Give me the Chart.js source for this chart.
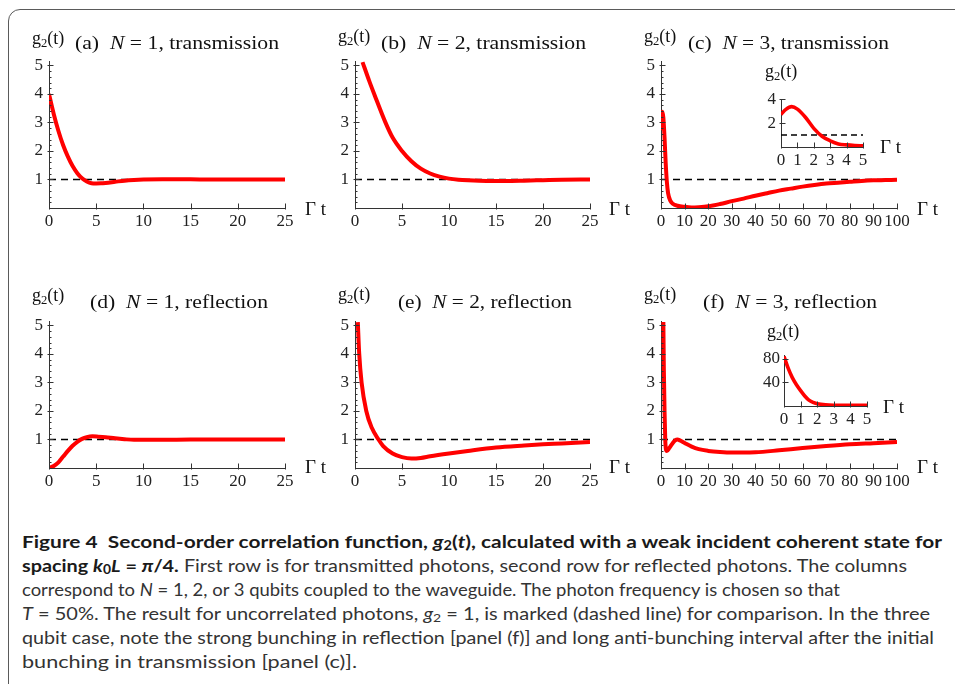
<!DOCTYPE html>
<html><head><meta charset="utf-8">
<script src="https://cdn.jsdelivr.net/npm/chart.js@4.4.1/dist/chart.umd.min.js"></script>
<style>
html,body{margin:0;padding:0;background:#fff;width:955px;height:684px;overflow:hidden;}
#wrap{position:relative;width:955px;height:684px;overflow:hidden;}
#frame{position:absolute;left:8px;top:9px;width:1000px;height:720px;border:1.5px solid #5a5a5a;border-radius:12px;box-sizing:border-box;}
canvas{position:absolute;}
.lbl{position:absolute;white-space:nowrap;font-family:'Liberation Serif','Times New Roman',serif;color:#111;line-height:1;transform-origin:0 50%;}
.lbl sub{font-size:0.7em;vertical-align:-0.25em;line-height:0;}
.cap{position:absolute;left:22px;white-space:nowrap;font-family:Lato,'Open Sans',sans-serif;font-size:17.5px;line-height:24px;height:24px;color:#333;}
.cap span.in{display:inline-block;transform-origin:0 50%;}
.cap b{color:#1a1a1a;font-weight:700;}
.cap sub{font-size:0.7em;vertical-align:-0.2em;line-height:0;}
</style></head>
<body><div id="wrap"><div id="frame"></div>
<canvas id="ca"></canvas><canvas id="cb"></canvas><canvas id="cc"></canvas><canvas id="cci"></canvas>
<canvas id="cd"></canvas><canvas id="ce"></canvas><canvas id="cf"></canvas><canvas id="cfi"></canvas>
<div class="cap" style="top:530px"><span class="in" data-w="920"><b>Figure 4&nbsp; Second-order correlation function, <i>g</i><sub>2</sub>(<i>t</i>), calculated with a weak incident coherent state for</b></span></div>
<div class="cap" style="top:554px"><span class="in" data-w="885"><b>spacing <i>k</i><sub>0</sub><i>L</i> = <i>π</i>/4.</b> First row is for transmitted photons, second row for reflected photons. The columns</span></div>
<div class="cap" style="top:578px"><span class="in" data-w="818">correspond to <i>N</i> = 1, 2, or 3 qubits coupled to the waveguide. The photon frequency is chosen so that</span></div>
<div class="cap" style="top:602px"><span class="in" data-w="908"><i>T</i> = 50%. The result for uncorrelated photons, <i>g</i><sub>2</sub> = 1, is marked (dashed line) for comparison. In the three</span></div>
<div class="cap" style="top:626px"><span class="in" data-w="912">qubit case, note the strong bunching in reflection [panel (f)] and long anti-bunching interval after the initial</span></div>
<div class="cap" style="top:650px"><span class="in" data-w="335">bunching in transmission [panel (c)].</span></div>
</div>
<script>
// ---------------- data ----------------
// (a) N=1 transmission
const aT = [0, 0.5, 1.0, 1.5, 2, 2.5, 3, 3.5, 4, 4.5, 5, 5.5, 6, 7, 8, 9, 10, 12, 15, 20, 25];
const aG = [4.0, 3.3, 2.7, 2.2, 1.8, 1.47, 1.22, 1.04, 0.93, 0.87, 0.86, 0.865, 0.88, 0.92, 0.96, 0.985, 1.0, 1.01, 1.005, 1.0, 1.0];
// (b) N=2 transmission
const bT = [0.8, 1.5, 2.1, 3.2, 4, 5, 6, 7, 8, 9, 10, 11, 12, 14, 16, 18, 20, 22, 25];
const bG = [5.12, 4.47, 3.95, 3.03, 2.47, 2.0, 1.64, 1.38, 1.21, 1.1, 1.03, 0.99, 0.97, 0.95, 0.95, 0.96, 0.975, 0.99, 1.0];
// (c) N=3 transmission
const cT = [0, 0.6, 1.0, 1.5, 2, 2.5, 3, 4, 5, 7, 10, 13, 16, 20, 25, 30, 35, 40, 45, 50, 55, 60, 65, 70, 75, 80, 85, 90, 95, 100];
const cG = [2.73, 3.38, 3.17, 2.47, 1.56, 0.9, 0.52, 0.25, 0.15, 0.08, 0.04, 0.02, 0.03, 0.06, 0.14, 0.24, 0.33, 0.43, 0.52, 0.61, 0.68, 0.75, 0.81, 0.86, 0.89, 0.92, 0.95, 0.97, 0.98, 0.99];
// (c) inset
const ciT = [0, 0.3, 0.65, 1.0, 1.5, 2.0, 2.5, 3.0, 3.5, 4.0, 4.5, 5.0];
const ciG = [2.73, 3.15, 3.38, 3.17, 2.47, 1.56, 0.9, 0.52, 0.26, 0.18, 0.13, 0.10];
// (d) N=1 reflection
const dT = [0, 0.5, 1, 1.5, 2, 2.5, 3, 3.5, 4, 4.6, 5.2, 6, 7, 8, 9, 10, 12, 15, 20, 25];
const dG = [0, 0.07, 0.2, 0.4, 0.6, 0.78, 0.92, 1.02, 1.08, 1.11, 1.1, 1.08, 1.04, 1.01, 0.99, 0.99, 0.99, 1.0, 1.0, 1.0];
// (e) N=2 reflection
const eT = [0.3, 0.45, 0.7, 1.2, 1.8, 2.5, 3, 4, 5, 6, 7, 8, 10, 12, 15, 18, 20, 22, 25];
const eG = [5.12, 4.0, 3.0, 2.0, 1.4, 1.0, 0.77, 0.51, 0.38, 0.33, 0.35, 0.41, 0.51, 0.6, 0.72, 0.79, 0.83, 0.86, 0.91];
// (f) N=3 reflection
const fT = [1.0, 1.2, 1.5, 1.8, 2.1, 2.5, 3.5, 5, 6, 7, 8, 10, 13, 16, 20, 25, 30, 35, 40, 50, 60, 70, 80, 90, 100];
const fG = [5.12, 3.5, 2.0, 1.0, 0.65, 0.6, 0.7, 0.88, 0.97, 1.0, 0.97, 0.88, 0.75, 0.66, 0.6, 0.56, 0.54, 0.54, 0.55, 0.62, 0.7, 0.77, 0.83, 0.87, 0.91];
// (f) inset
const fiT = [0, 0.25, 0.5, 0.75, 1, 1.25, 1.5, 1.75, 2, 2.5, 3, 3.5, 4, 4.5, 5];
const fiG = [84, 64, 48, 36, 26, 17, 10, 6, 4, 2, 1.2, 1, 1, 1, 1];

// uncorrelated reference level g2 = 1
const refLevel = 1;

// tick values
const mainYTicks = [0, 1, 2, 3, 4, 5];
const xTicks25 = [0, 5, 10, 15, 20, 25];
const xTicks100 = [0, 10, 20, 30, 40, 50, 60, 70, 80, 90, 100];
const insetXTicks = [0, 1, 2, 3, 4, 5];
const insetCYTicks = [0, 2, 4];
const insetFYTicks = [0, 40, 80];

// ---------------- drawing ----------------
Chart.defaults.font.family = "'Liberation Serif','Times New Roman',serif";
Chart.defaults.color = '#222';

const inTicks = {
  id: 'inTicks',
  afterDatasetsDraw(chart, args, o) {
    const {ctx, chartArea: ca, scales: {x, y}} = chart;
    ctx.save(); ctx.strokeStyle = '#333'; ctx.lineWidth = 1;
    const line = (x1, y1, x2, y2) => { ctx.beginPath(); ctx.moveTo(x1, y1); ctx.lineTo(x2, y2); ctx.stroke(); };
    (o.xMajor || []).forEach(v => { const p = Math.round(x.getPixelForValue(v)) + 0.5; line(p, ca.bottom + 1.5, p, ca.bottom - 4.5); });
    (o.yMinor || []).forEach(v => { const p = Math.round(y.getPixelForValue(v)) + 0.5; line(ca.left, p, ca.left + 2.5, p); });
    (o.yMajor || []).forEach(v => { const p = Math.round(y.getPixelForValue(v)) + 0.5; line(ca.left - 1.5, p, ca.left + 4.5, p); });
    ctx.restore();
  }
};

function pts(xs, ys) { return xs.map((v, i) => ({x: v, y: ys[i]})); }
function range(a, b, s) { const r = []; for (let v = a; v <= b + 1e-9; v += s) r.push(+v.toFixed(4)); return r; }

function panel(id, g, curveX, curveY, xt, yt, ymax, opts) {
  const cv = document.getElementById(id);
  cv.width = g.w; cv.height = g.h; cv.style.left = g.l + 'px'; cv.style.top = g.t + 'px';
  const xmax = xt[xt.length - 1];
  const ds = [{data: pts(curveX, curveY), borderColor: 'rgb(255,0,0)', borderWidth: opts.lw || 4,
               cubicInterpolationMode: 'monotone', pointRadius: 0, order: 0}];
  if (opts.dash) ds.push({data: [{x: 0, y: refLevel}, {x: xmax, y: refLevel}], borderColor: '#000',
                          borderWidth: 1.5, borderDash: opts.dashPat || [7, 5], pointRadius: 0, order: 1});
  return new Chart(cv, {
    type: 'line',
    data: {datasets: ds},
    options: {
      responsive: false, animation: false, devicePixelRatio: 1,
      layout: {padding: {top: g.pt, right: g.pr, left: 0, bottom: 0}},
      plugins: {legend: {display: false}, tooltip: {enabled: false},
                inTicks: {xMajor: xt, yMajor: yt.filter(v => v > 0), yMinor: opts.yMinor}},
      scales: {
        x: {type: 'linear', min: 0, max: xmax,
            afterBuildTicks: s => { s.ticks = xt.map(v => ({value: v})); },
            afterFit: s => { s.height = g.xh; },
            grid: {display: false, drawTicks: false, tickLength: 0},
            border: {display: true, color: '#333', width: 1},
            ticks: {padding: g.xp, font: {size: g.fs}, color: '#222', maxRotation: 0, autoSkip: false,
                    callback: v => String(v)}},
        y: {type: 'linear', min: 0, max: ymax,
            afterBuildTicks: s => { s.ticks = yt.map(v => ({value: v})); },
            afterFit: s => { s.width = g.yw; },
            grid: {display: false, drawTicks: false, tickLength: 0},
            border: {display: true, color: '#333', width: 1},
            ticks: {padding: g.yp, font: {size: g.fs}, color: '#222', autoSkip: false,
                    callback: v => (v === 0 ? '' : String(v))}}
      }
    },
    plugins: [inTicks]
  });
}

const yMinorMain = range(0, 5, 0.2).filter(v => Math.abs(v - Math.round(v)) > 1e-6);
const G = (l, t, w) => ({l, t, w, h: 193, pt: 12.6, pr: 20, yw: 40, xh: 30, xp: 3, yp: 6, fs: 17});
const YMAX = 5.15;

panel('ca', G(9, 45, 296), aT, aG, xTicks25, mainYTicks, YMAX, {dash: true, yMinor: yMinorMain});
panel('cb', G(315, 45, 295), bT, bG, xTicks25, mainYTicks, YMAX, {dash: true, yMinor: yMinorMain});
panel('cc', G(621, 45, 296), cT, cG, xTicks100, mainYTicks, YMAX, {dash: true, yMinor: yMinorMain});
panel('cd', G(9, 305, 296), dT, dG, xTicks25, mainYTicks, YMAX, {dash: true, yMinor: yMinorMain});
panel('ce', G(315, 305, 295), eT, eG, xTicks25, mainYTicks, YMAX, {dash: true, yMinor: yMinorMain});
panel('cf', G(621, 305, 296), fT, fG, xTicks100, mainYTicks, YMAX, {dash: true, yMinor: yMinorMain});
panel('cci', {l: 751, t: 84, w: 126, h: 91, pt: 12, pr: 14, yw: 30, xh: 28, xp: 3, yp: 5, fs: 17},
      ciT, ciG, insetXTicks, insetCYTicks, 4, {dash: true, lw: 3.6, dashPat: [6, 4]});
panel('cfi', {l: 750, t: 341, w: 131, h: 93, pt: 12.6, pr: 14, yw: 34, xh: 28, xp: 3, yp: 4, fs: 17},
      fiT, fiG, insetXTicks, insetFYTicks, 86, {dash: false, lw: 3.6});

// ---------------- text labels ----------------
const wrap = document.getElementById('wrap');
function lbl(html, left, cy, fs, w) {
  const d = document.createElement('div');
  d.className = 'lbl'; d.innerHTML = html;
  d.style.left = left + 'px'; d.style.fontSize = fs + 'px';
  d.style.top = (cy - 0.55 * fs) + 'px';
  wrap.appendChild(d);
  if (w) { const s = w / d.getBoundingClientRect().width; d.style.transform = 'scaleX(' + s + ')'; }
}
const g2 = 'g<sub>2</sub>(t)';
const gt = 'Γ t';
lbl('(a)&nbsp; <i>N</i> = 1, transmission', 75, 43.5, 19, 204);
lbl('(b)&nbsp; <i>N</i> = 2, transmission', 381, 43.5, 19, 205);
lbl('(c)&nbsp; <i>N</i> = 3, transmission', 688, 43.5, 19, 201);
lbl('(d)&nbsp; <i>N</i> = 1, reflection', 90, 302, 19, 178);
lbl('(e)&nbsp; <i>N</i> = 2, reflection', 398, 302, 19, 174);
lbl('(f)&nbsp; <i>N</i> = 3, reflection', 703, 302, 19, 174);
[[32, 38.5], [338, 36.5], [644, 36.5], [32, 296], [338, 295], [644, 295], [765, 71.5], [767, 331.5]]
  .forEach(p => lbl(g2, p[0], p[1], 18));
[[305, 209.5], [609, 209.5], [917, 209.5], [305, 467.5], [609, 467.5], [917, 467.5], [880, 147], [883, 407]]
  .forEach(p => lbl(gt, p[0], p[1], 19));

// caption fitting to measured line widths
document.querySelectorAll('.cap span.in').forEach(s => {
  const k = +s.dataset.w / s.getBoundingClientRect().width;
  s.style.transform = 'scaleX(' + k + ')';
});
</script>
</body></html>
